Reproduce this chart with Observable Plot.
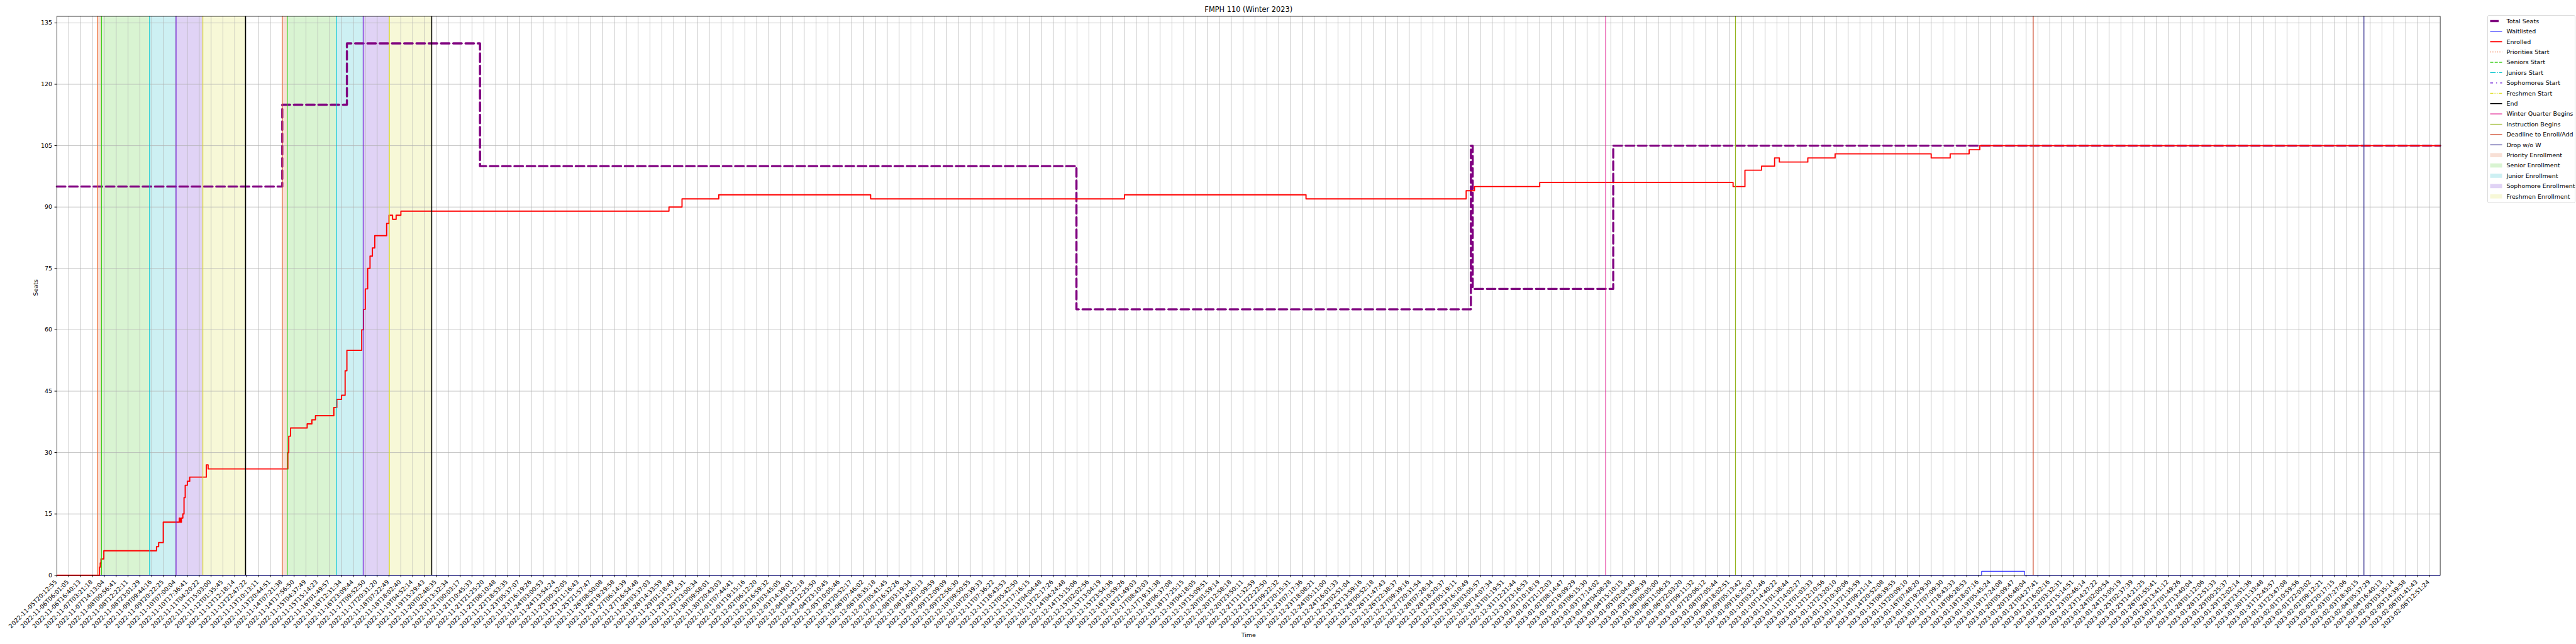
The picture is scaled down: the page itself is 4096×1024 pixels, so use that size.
<!DOCTYPE html>
<html><head><meta charset="utf-8">
<script src="https://cdn.jsdelivr.net/npm/d3@7"></script>
<script src="https://cdn.jsdelivr.net/npm/@observablehq/plot@0.6"></script>
<style>
body{margin:0;background:#fff;}
#fig{position:relative;width:4096px;height:1024px;font-family:"DejaVu Sans",sans-serif;background:#fff;overflow:hidden;}
#fig svg.plot{position:absolute;left:0;top:0;}
#legend{position:absolute;left:3955px;top:24px;}
</style>
</head><body><div id="fig"></div>
<script>
// ---------- data ----------
const tickLabels = [
"2022-11-05T20:12:55","2022-11-06T06:01:05","2022-11-06T16:40:13","2022-11-07T03:21:18","2022-11-07T14:13:04",
"2022-11-08T00:56:41","2022-11-08T12:22:11","2022-11-08T23:01:29","2022-11-09T09:44:16","2022-11-09T20:22:25",
"2022-11-10T07:00:04","2022-11-10T17:36:41","2022-11-11T04:20:22","2022-11-11T15:03:00","2022-11-12T01:35:45",
"2022-11-12T12:18:14","2022-11-12T22:47:22","2022-11-13T10:13:11","2022-11-13T20:44:51","2022-11-14T07:21:38",
"2022-11-14T17:56:50","2022-11-15T04:37:49","2022-11-15T15:14:23","2022-11-16T01:49:57","2022-11-16T12:31:34",
"2022-11-16T23:09:44","2022-11-17T09:52:50","2022-11-17T20:31:20","2022-11-18T07:22:49","2022-11-18T18:02:40",
"2022-11-19T04:52:14","2022-11-19T15:29:43","2022-11-20T02:48:35","2022-11-20T13:32:34","2022-11-21T00:03:17",
"2022-11-21T10:45:33","2022-11-21T21:25:20","2022-11-22T08:10:48","2022-11-22T18:53:35","2022-11-23T05:37:07",
"2022-11-23T16:19:26","2022-11-24T03:00:53","2022-11-24T13:54:24","2022-11-25T00:32:05","2022-11-25T11:16:43",
"2022-11-25T21:57:47","2022-11-26T08:50:08","2022-11-26T19:29:58","2022-11-27T06:14:39","2022-11-27T16:54:48",
"2022-11-28T03:37:03","2022-11-28T14:33:59","2022-11-29T01:18:49","2022-11-29T12:14:31","2022-11-29T23:00:34",
"2022-11-30T09:58:01","2022-11-30T20:43:03","2022-12-01T07:44:41","2022-12-01T19:15:16","2022-12-02T06:12:20",
"2022-12-02T16:59:32","2022-12-03T03:45:05","2022-12-03T14:39:01","2022-12-04T01:22:18","2022-12-04T12:25:50",
"2022-12-04T23:10:45","2022-12-05T10:05:46","2022-12-05T20:52:17","2022-12-06T07:46:02","2022-12-06T18:35:18",
"2022-12-07T05:41:45","2022-12-07T16:32:26","2022-12-08T03:19:34","2022-12-08T14:20:13","2022-12-09T01:09:59",
"2022-12-09T12:09:09","2022-12-09T22:56:30","2022-12-10T09:50:55","2022-12-10T20:39:33","2022-12-11T07:36:22",
"2022-12-11T18:43:53","2022-12-12T05:42:50","2022-12-12T17:16:15","2022-12-13T04:04:48","2022-12-13T22:17:26",
"2022-12-14T04:24:48","2022-12-14T15:15:06","2022-12-15T02:02:56","2022-12-15T13:04:19","2022-12-15T23:54:36",
"2022-12-16T10:59:26","2022-12-16T21:49:03","2022-12-17T08:43:03","2022-12-17T19:31:38","2022-12-18T06:37:08",
"2022-12-18T17:25:15","2022-12-19T04:18:05","2022-12-19T15:09:51","2022-12-20T01:59:14","2022-12-20T12:58:18",
"2022-12-20T23:50:11","2022-12-21T11:32:59","2022-12-21T22:22:50","2022-12-22T09:22:32","2022-12-22T20:15:31",
"2022-12-23T07:17:36","2022-12-23T18:08:21","2022-12-24T05:11:00","2022-12-24T16:01:33","2022-12-25T02:51:04",
"2022-12-25T13:59:16","2022-12-26T00:52:18","2022-12-26T11:47:43","2022-12-26T22:38:37","2022-12-27T09:39:16",
"2022-12-27T20:31:54","2022-12-28T07:28:34","2022-12-28T18:20:37","2022-12-29T05:19:11","2022-12-29T16:10:49",
"2022-12-30T03:05:57","2022-12-30T14:07:34","2022-12-31T01:19:51","2022-12-31T12:21:44","2022-12-31T23:16:53",
"2023-01-01T10:18:19","2023-01-01T21:12:03","2023-01-02T08:14:47","2023-01-02T19:09:29","2023-01-03T06:15:30",
"2023-01-03T17:14:02","2023-01-04T04:08:28","2023-01-04T15:10:15","2023-01-05T02:04:40","2023-01-05T13:09:39",
"2023-01-06T00:05:00","2023-01-06T11:06:25","2023-01-06T22:03:20","2023-01-07T09:11:32","2023-01-07T20:06:12",
"2023-01-08T07:05:44","2023-01-08T18:02:51","2023-01-09T05:13:42","2023-01-09T16:25:07","2023-01-10T03:21:46",
"2023-01-10T14:40:22","2023-01-11T01:38:44","2023-01-11T14:02:27","2023-01-12T01:03:33","2023-01-12T12:10:56",
"2023-01-12T23:20:10","2023-01-13T10:30:06","2023-01-13T21:35:59","2023-01-14T09:21:14","2023-01-14T20:52:08",
"2023-01-15T08:39:55","2023-01-15T20:09:10","2023-01-16T07:48:20","2023-01-16T19:29:30","2023-01-17T07:09:30",
"2023-01-17T18:43:33","2023-01-18T06:28:53","2023-01-18T18:07:16","2023-01-19T05:45:24","2023-01-19T17:24:08",
"2023-01-20T05:09:47","2023-01-20T16:48:04","2023-01-21T04:27:41","2023-01-21T16:02:16","2023-01-22T03:32:31",
"2023-01-22T15:14:51","2023-01-23T02:46:14","2023-01-23T14:27:22","2023-01-24T02:00:54","2023-01-24T15:05:19",
"2023-01-25T02:37:39","2023-01-25T14:21:25","2023-01-26T01:55:41","2023-01-26T13:41:12","2023-01-27T01:49:26",
"2023-01-27T13:40:04","2023-01-28T01:12:06","2023-01-28T12:51:33","2023-01-29T00:25:37","2023-01-29T12:02:14",
"2023-01-29T23:51:36","2023-01-30T11:33:48","2023-01-31T12:45:57","2023-01-31T23:47:08","2023-02-01T10:59:56",
"2023-02-01T22:03:02","2023-02-02T09:12:21","2023-02-02T20:17:15","2023-02-03T07:27:06","2023-02-03T18:30:15",
"2023-02-04T05:37:29","2023-02-04T16:40:13","2023-02-05T03:35:14","2023-02-05T14:39:58","2023-02-06T01:41:43",
"2023-02-06T12:51:24"
];
const tickIndex = tickLabels.map((d, i) => i);
const xEnd = 200.91;            // last sample position (in tick-index units)
const yTicks = [0, 15, 30, 45, 60, 75, 90, 105, 120, 135];

// step change points: position (tick-index units) and value
const seatsT = [0, 19.0, 24.45, 35.67, 85.95, 119.2, 119.35, 131.2, xEnd];
const seatsV = [95, 115, 130, 100, 65, 105, 70, 105, 105];

const waitT = [0, 162.25, 165.87, xEnd];
const waitV = [0, 1, 0, 0];

const enrolledT = [0, 3.59, 3.66, 3.72, 3.96, 8.40, 8.58, 8.97, 10.32, 10.40, 10.50, 10.62, 10.72, 10.82, 11.0, 11.2, 12.6, 12.75,
  19.47, 19.55, 19.7, 21.1, 21.5, 21.8, 23.35, 23.6, 24.0, 24.3, 24.45, 25.7, 25.85, 26.0, 26.2, 26.4, 26.6, 26.8, 27.8, 28.0, 28.3, 28.6, 29.0,
  51.6, 52.7, 55.8, 68.6, 90.0, 105.3, 118.8, 119.5, 125.0, 141.3, 142.3, 143.7, 144.8, 145.2, 147.6, 149.9, 158.0, 159.6, 161.2, 162.1, xEnd];
const enrolledV = [0, 2, 3, 4, 6, 7, 8, 13, 14, 13, 14, 15, 19, 22, 23, 24, 27, 26,
  30, 34, 36, 37, 38, 39, 41, 43, 44, 50, 55, 60, 65, 70, 75, 78, 80, 83, 86, 88, 87, 88, 89,
  90, 92, 93, 92, 93, 92, 94, 95, 96, 95, 99, 100, 102, 101, 102, 103, 102, 103, 104, 105, 105];

// enrollment passes: band boundaries (tick-index units)
const bandNames = ["Priority Enrollment", "Senior Enrollment", "Junior Enrollment", "Sophomore Enrollment", "Freshmen Enrollment"];
const bandColors = ["#f8e0d6", "#d9f4d2", "#cdf0f3", "#e0d3f5", "#f7f8d7"];
const pass1 = [3.41, 3.76, 7.82, 10.05, 12.31, 15.90];
const pass2 = [19.00, 19.42, 23.56, 25.82, 28.03, 31.60];

const startNames = ["Priorities Start", "Seniors Start", "Juniors Start", "Sophomores Start", "Freshmen Start", "End"];
const startColors = ["#ef6a33", "#33cc11", "#00c4cc", "#6a1bd6", "#dede22", "#000000"];
const startDash = ["1.4,2.3", "5,2.2", "8.7,2.2,1.4,2.2", "4.5,5,1.4,5", "5,2,1.4,2,1.4,2", "none"];

const eventNames = ["Winter Quarter Begins", "Instruction Begins", "Deadline to Enroll/Add", "Drop w/o W"];
const eventT = [130.57, 141.5, 166.6, 194.48];
const eventColors = ["#e0158c", "#93b31b", "#cc4122", "#2f2a8c"];

const title = "FMPH 110 (Winter 2023)";
const xLabel = "Time", yLabel = "Seats";

// ---------- derived tables ----------
const toRows = (T, V) => T.map((t, i) => ({t, v: V[i]}));
const seats = toRows(seatsT, seatsV);
const wait = toRows(waitT, waitV);
const enrolled = toRows(enrolledT, enrolledV);
const bands = [];
for (const p of [pass1, pass2]) for (let i = 0; i < 5; i++) bands.push({x1: p[i], x2: p[i + 1], fill: bandColors[i]});
const startLines = [];
for (const p of [pass1, pass2]) p.forEach((t, i) => startLines.push({t, stroke: startColors[i], dash: startDash[i], w: i === 5 ? 1.5 : 1.2}));
const events = eventT.map((t, i) => ({t, stroke: eventColors[i]}));

const yMax = 136.6;
const chart = Plot.plot({
  width: 4096, height: 1024,
  marginLeft: 89.9, marginRight: 216.4, marginTop: 25.5, marginBottom: 109.7,
  x: {domain: [0, xEnd], axis: null},
  y: {domain: [0, yMax], axis: null},
  style: {fontFamily: "DejaVu Sans", fontSize: "9.5px", color: "black", background: "white", overflow: "visible"},
  marks: [
    Plot.rect(bands, {x1: "x1", x2: "x2", fill: "fill"}),
    Plot.gridX(tickIndex, {stroke: "#b0b0b0", strokeOpacity: 1, strokeWidth: 0.75}),
    Plot.gridY(yTicks, {stroke: "#b0b0b0", strokeOpacity: 1, strokeWidth: 0.75}),
    Plot.line(seats, {x: "t", y: "v", curve: "step-after", stroke: "purple", strokeWidth: 3.4, strokeDasharray: "13.5,6"}),
    Plot.line(wait, {x: "t", y: "v", curve: "step-after", stroke: "blue", strokeWidth: 1}),
    Plot.line(enrolled, {x: "t", y: "v", curve: "step-after", stroke: "red", strokeWidth: 1.9}),
    Plot.ruleX(startLines, {x: "t", stroke: "stroke", strokeDasharray: "dash", strokeWidth: "w"}),
    Plot.ruleX(events, {x: "t", stroke: "stroke", strokeWidth: 1.2}),
    Plot.frame({stroke: "black", strokeWidth: 0.75}),
    Plot.axisY({ticks: yTicks, tickSize: 3.3, tickPadding: 4, fontSize: 9.5, label: null}),
    Plot.axisX({ticks: tickIndex, tickSize: 3.3, fill: "none", label: null}),
    Plot.text(tickIndex, {x: d => d, text: d => tickLabels[d], frameAnchor: "bottom", rotate: -45,
      textAnchor: "end", lineAnchor: "top", dy: 6.5, dx: -4, fontSize: 9.5}),
    Plot.text([title], {frameAnchor: "top", lineAnchor: "bottom", dy: -7, fontSize: 11.4}),
    Plot.text([xLabel], {frameAnchor: "bottom", lineAnchor: "top", dy: 91, fontSize: 9.5}),
    Plot.text([yLabel], {frameAnchor: "left", rotate: -90, dx: -33, fontSize: 9.5})
  ]
});
chart.classList.add("plot");
const fig = document.getElementById("fig");
fig.appendChild(chart);

// ---------- legend ----------
const legendLabels = ["Total Seats", "Waitlisted", "Enrolled", ...startNames, ...eventNames, ...bandNames];
const legendItems = [
  {type: "line", stroke: "purple", w: 3.4, dash: "13.5,6"},
  {type: "line", stroke: "blue", w: 1, dash: "none"},
  {type: "line", stroke: "red", w: 1.9, dash: "none"},
  ...startColors.map((c, i) => ({type: "line", stroke: c, w: i === 5 ? 1.5 : 1.2, dash: startDash[i]})),
  ...eventColors.map(c => ({type: "line", stroke: c, w: 1.2, dash: "none"})),
  ...bandColors.map(c => ({type: "patch", fill: c}))
].map((d, i) => ({...d, label: legendLabels[i]}));

const pitch = 16.4, top0 = 9.5, lw = 139, lh = top0 * 2 + pitch * (legendItems.length - 1);
const lsvg = d3.create("svg").attr("id", "legend").attr("width", lw + 2).attr("height", lh + 2)
  .style("font-family", "DejaVu Sans").style("font-size", "9.5px");
lsvg.append("rect").attr("x", 0.5).attr("y", 0.5).attr("width", lw).attr("height", lh).attr("rx", 2)
  .attr("fill", "white").attr("fill-opacity", 0.8).attr("stroke", "#cccccc").attr("stroke-width", 0.7);
const rows = lsvg.selectAll("g").data(legendItems).join("g")
  .attr("transform", (d, i) => `translate(0,${top0 + i * pitch})`);
rows.filter(d => d.type === "line").append("line")
  .attr("x1", 4.5).attr("x2", 23.5).attr("y1", 0).attr("y2", 0)
  .attr("stroke", d => d.stroke).attr("stroke-width", d => d.w).attr("stroke-dasharray", d => d.dash);
rows.filter(d => d.type === "patch").append("rect")
  .attr("x", 4.5).attr("y", -3.3).attr("width", 19).attr("height", 6.6).attr("fill", d => d.fill);
rows.append("text").attr("x", 30.5).attr("y", 0).attr("dy", "0.35em").text(d => d.label);
fig.appendChild(lsvg.node());
</script>
</body></html>
